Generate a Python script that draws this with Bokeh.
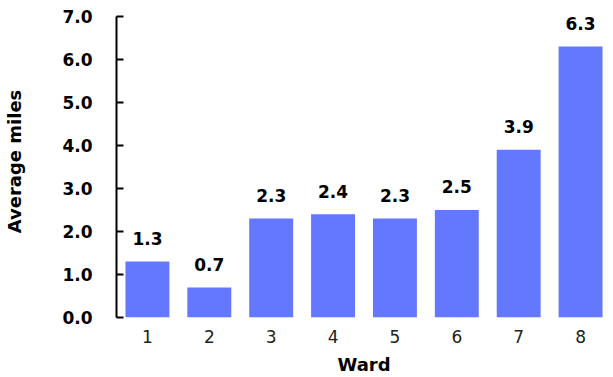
from bokeh.plotting import figure
from bokeh.models import FactorRange, Range1d, FixedTicker, PrintfTickFormatter, ColumnDataSource
from bokeh.core.properties import value
from bokeh.embed import file_html
from bokeh.resources import INLINE

wards = ["1", "2", "3", "4", "5", "6", "7", "8"]
avg_miles = [1.3, 0.7, 2.3, 2.4, 2.3, 2.5, 3.9, 6.3]
y_ticks = [0, 1, 2, 3, 4, 5, 6, 7]

FONT = "DejaVu Sans"
BAR = "#6378FF"

src = ColumnDataSource(dict(x=wards, y=avg_miles, lab=[f"{v:.1f}" for v in avg_miles]))

p = figure(width=613, height=377, x_range=FactorRange(factors=wards, range_padding=0),
           y_range=Range1d(0, 7.25), output_backend="svg", toolbar_location=None,
           min_border_left=116, min_border_right=2, min_border_top=5, min_border_bottom=59)

p.vbar(x="x", top="y", width=0.71, source=src, color=BAR, line_color=None)
p.text(x="x", y="y", text="lab", source=src, text_align="center", text_baseline="alphabetic",
       y_offset=-23, text_font=value(FONT), text_font_style="bold", text_font_size="17px",
       text_color="black")

p.xgrid.visible = False
p.ygrid.visible = False
p.outline_line_color = None
p.background_fill_color = "white"
p.border_fill_color = "white"

ya = p.yaxis[0]
ya.ticker = FixedTicker(ticks=y_ticks)
ya.formatter = PrintfTickFormatter(format="%.1f")
ya.bounds = (0, 7)
ya.axis_line_color = "black"
ya.axis_line_width = 2
ya.major_tick_line_width = 2
ya.major_tick_in = 7
ya.major_tick_out = 0
ya.minor_tick_line_color = None
ya.major_label_standoff = 24
ya.major_label_text_font = FONT
ya.major_label_text_font_style = "bold"
ya.major_label_text_font_size = "17px"
ya.major_label_text_color = "black"
ya.axis_label = "Average miles"
ya.axis_label_text_font = FONT
ya.axis_label_text_font_style = "bold"
ya.axis_label_text_font_size = "18px"
ya.axis_label_text_color = "black"
ya.axis_label_standoff = 34

xa = p.xaxis[0]
xa.axis_line_color = None
xa.major_tick_line_color = None
xa.minor_tick_line_color = None
xa.major_tick_in = 0
xa.major_tick_out = 0
xa.major_label_standoff = 12
xa.major_label_text_font = FONT
xa.major_label_text_font_size = "17px"
xa.major_label_text_color = "#222222"
xa.axis_label = "Ward"
xa.axis_label_text_font = FONT
xa.axis_label_text_font_style = "bold"
xa.axis_label_text_font_size = "18px"
xa.axis_label_text_color = "black"
xa.axis_label_standoff = 8

open("out.html", "w").write(file_html(p, INLINE))
